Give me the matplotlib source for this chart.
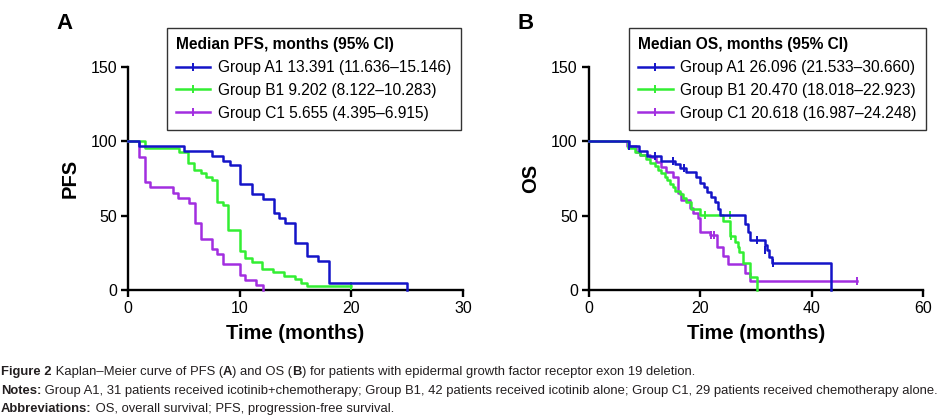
import numpy as np
import matplotlib
matplotlib.use("Agg")
import matplotlib.pyplot as plt
from matplotlib.lines import Line2D

plt.rcParams['font.family'] = ['Liberation Sans', 'DejaVu Sans']

# ---- PFS (panel A): step times and survival after each step ----
pfs_a1_t = [0, 1.0, 5.0, 7.5, 8.5, 9.1, 10.0, 11.1, 12.1, 13.1, 13.5, 14.1, 15.0, 16.0, 17.0, 18.0, 25.0]
pfs_a1_s = [100, 96.8, 93.5, 90.3, 87.1, 83.9, 71.0, 64.5, 61.3, 51.6, 48.4, 45.2, 31.5, 23.0, 19.4, 5.0, 0]
pfs_b1_t = [0, 1.5, 4.6, 5.4, 5.9, 6.5, 7.0, 7.5, 8.0, 8.5, 9.0, 10.0, 10.5, 11.1, 12.0, 13.0, 14.0, 15.0, 15.5, 16.0, 20.0]
pfs_b1_s = [100, 95.2, 92.9, 85.7, 81.0, 78.6, 76.2, 73.8, 59.5, 57.1, 40.5, 26.2, 21.4, 19.0, 14.3, 11.9, 9.5, 7.1, 4.8, 2.4, 2.4]
pfs_c1_t = [0, 1.0, 1.5, 2.0, 4.0, 4.5, 5.5, 6.0, 6.5, 7.5, 8.0, 8.5, 10.0, 10.5, 11.5, 12.1]
pfs_c1_s = [100, 89.7, 72.4, 69.0, 65.5, 62.1, 58.6, 44.8, 34.5, 27.6, 24.1, 17.2, 10.3, 6.9, 3.4, 0]
pfs_cens = {'A1': ([], []), 'B1': ([20.0], [2.4]), 'C1': ([], [])}

# ---- OS (panel B) ----
os_a1_t = [0, 7.2, 9.0, 10.5, 13.0, 15.4, 16.3, 17.5, 19.3, 19.9, 20.6, 21.2, 22.0, 22.6, 23.2, 23.6,
           28.0, 28.5, 29.0, 31.6, 32.0, 32.4, 32.8, 43.5]
os_a1_s = [100, 96.8, 93.5, 90.3, 87.1, 84.5, 82.0, 79.5, 76.0, 72.0, 69.0, 66.0, 62.5, 59.0, 54.5, 50.3,
           44.7, 39.1, 33.5, 30.2, 26.8, 22.4, 17.9, 0]
os_b1_t = [0, 7.0, 8.2, 9.1, 10.3, 10.9, 11.8, 12.4, 13.0, 13.6, 14.0, 14.5, 15.1, 15.5, 16.3, 16.9, 17.5,
           18.4, 19.9, 24.1, 25.3, 26.2, 26.8, 27.0, 27.7, 28.9, 30.1]
os_b1_s = [100, 95.2, 92.9, 90.5, 88.1, 85.7, 83.3, 81.0, 78.6, 76.2, 73.8, 71.4, 69.0, 66.7, 64.3, 61.9, 59.5,
           54.8, 50.3, 46.5, 36.0, 32.4, 29.0, 25.7, 18.0, 8.5, 0]
os_c1_t = [0, 6.8, 8.4, 9.1, 10.9, 12.1, 13.0, 13.9, 15.1, 16.0, 16.6, 18.1, 18.7, 19.6, 20.0, 21.7,
           23.0, 24.1, 25.0, 28.0, 28.9, 48.1]
os_c1_s = [100, 96.6, 93.1, 91.0, 89.7, 86.2, 82.8, 79.3, 75.9, 65.5, 60.3, 55.2, 51.7, 48.3, 39.0, 37.0,
           29.0, 23.0, 17.2, 11.6, 6.0, 6.0]
os_cens = {
    'A1': ([7.2, 11.8, 15.1, 17.0, 30.1, 31.6, 33.1], [97.0, 90.3, 87.1, 82.0, 33.5, 26.8, 17.9]),
    'B1': ([20.8, 25.3, 25.6], [50.3, 50.3, 36.0]),
    'C1': ([21.9, 22.4, 48.1], [37.0, 37.0, 6.0]),
}

groups = ['A1', 'B1', 'C1']
colors = {'A1': '#1414c8', 'B1': '#33ee33', 'C1': '#a22ee0'}
pfs_labels = ['Group A1 13.391 (11.636\u201315.146)',
              'Group B1 9.202 (8.122\u201310.283)',
              'Group C1 5.655 (4.395\u20136.915)']
os_labels = ['Group A1 26.096 (21.533\u201330.660)',
             'Group B1 20.470 (18.018\u201322.923)',
             'Group C1 20.618 (16.987\u201324.248)']

pfs_data = {'A1': (pfs_a1_t, pfs_a1_s), 'B1': (pfs_b1_t, pfs_b1_s), 'C1': (pfs_c1_t, pfs_c1_s)}
os_data = {'A1': (os_a1_t, os_a1_s), 'B1': (os_b1_t, os_b1_s), 'C1': (os_c1_t, os_c1_s)}

fig = plt.figure(figsize=(9.53, 4.2), dpi=100)
axA = fig.add_axes([0.1343, 0.3095, 0.3515, 0.531])
axB = fig.add_axes([0.618, 0.3095, 0.3505, 0.531])


def draw_panel(ax, data, cens, labels, xmax, xstep, ylabel, title, letter, lx):
    for g in groups[::-1]:
        t, s = data[g]
        ax.step(t, s, where='post', color=colors[g], lw=1.8, clip_on=False, zorder=3)
        ct, cs = cens[g]
        if ct:
            ax.plot(ct, cs, ls='none', marker='|', ms=6, mew=1.4, color=colors[g],
                    clip_on=False, zorder=3)
    ax.set_xlim(0, xmax)
    ax.set_ylim(0, 150)
    ax.set_xticks(np.arange(0, xmax + 1, xstep))
    ax.set_yticks([0, 50, 100, 150])
    for sp in ['top', 'right']:
        ax.spines[sp].set_visible(False)
    for sp in ['left', 'bottom']:
        ax.spines[sp].set_linewidth(1.7)
    ax.tick_params(direction='out', length=5, width=1.7, labelsize=11.5, pad=3)
    ax.set_xlabel('Time (months)', fontsize=14.5, fontweight='bold', labelpad=6)
    ax.set_ylabel(ylabel, fontsize=14.5, fontweight='bold', labelpad=8)
    handles = [Line2D([], [], color=colors[g], lw=1.8, marker='|', ms=6, mew=1.4) for g in groups]
    leg = ax.legend(handles, labels, title=title, loc='upper left', bbox_to_anchor=(lx, 1.175),
                    frameon=True, fancybox=False, edgecolor='black', fontsize=11.2,
                    title_fontproperties={'weight': 'bold', 'size': 11.2},
                    handlelength=2.2, handletextpad=0.5, labelspacing=0.5, borderpad=0.6,
                    borderaxespad=0)
    leg.get_frame().set_linewidth(1.0)
    leg._legend_box.align = 'left'
    ax.text(-0.215, 1.15, letter, transform=ax.transAxes, fontsize=16, fontweight='bold',
            va='bottom', ha='left')


draw_panel(axA, pfs_data, pfs_cens, pfs_labels, 30, 10, 'PFS', 'Median PFS, months (95% CI)', 'A', 0.116)
draw_panel(axB, os_data, os_cens, os_labels, 60, 20, 'OS', 'Median OS, months (95% CI)', 'B', 0.12)

cap_font = ['Liberation Sans Narrow', 'Liberation Sans', 'DejaVu Sans']
cap_size = 9.4
line1 = [('Figure 2', 'bold'),
         (' Kaplan\u2013Meier curve of PFS (', 'normal'), ('A', 'bold'), (') and OS (', 'normal'),
         ('B', 'bold'), (') for patients with epidermal growth factor receptor exon 19 deletion.', 'normal')]
line2 = [('Notes:', 'bold'),
         (' Group A1, 31 patients received icotinib+chemotherapy; Group B1, 42 patients received icotinib alone; '
          'Group C1, 29 patients received chemotherapy alone.', 'normal')]
line3 = [('Abbreviations:', 'bold'), (' OS, overall survival; PFS, progression-free survival.', 'normal')]

fig.canvas.draw()
renderer = fig.canvas.get_renderer()
for y_px, parts in [(372, line1), (391, line2), (409, line3)]:
    x = 1.0 / 953
    for txt, wt in parts:
        t = fig.text(x, 1 - y_px / 420, txt, fontsize=cap_size, fontweight=wt, family=cap_font,
                     va='center', ha='left', color='#231f20')
        bb = t.get_window_extent(renderer=renderer)
        x = bb.x1 / fig.bbox.width

fig.savefig('out.png', dpi=100)
